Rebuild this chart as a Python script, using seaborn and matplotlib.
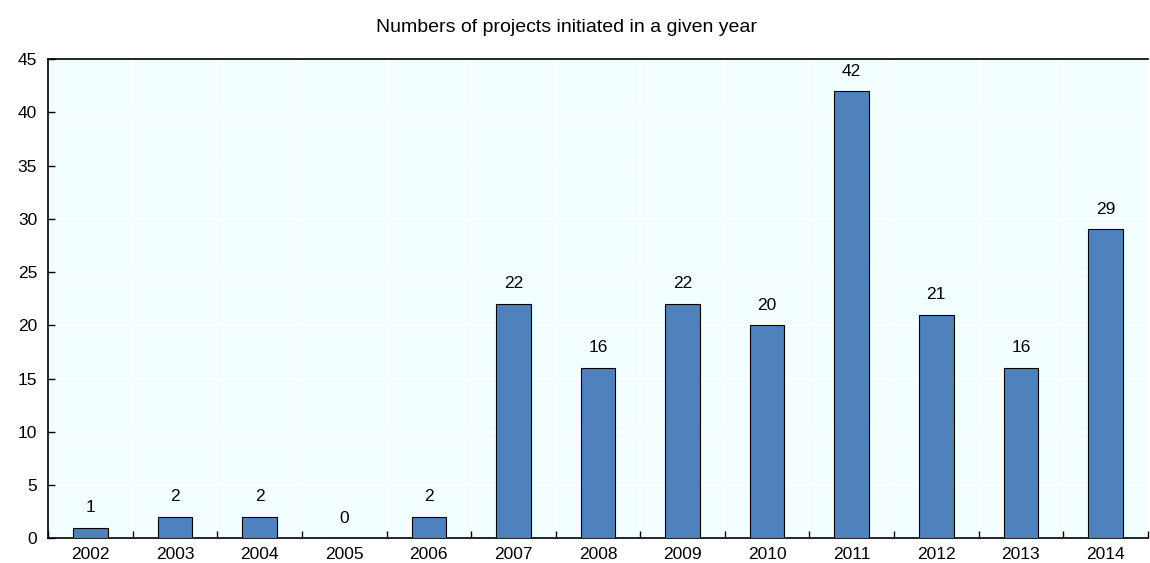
import pandas as pd
import seaborn as sns
import matplotlib.pyplot as plt
import numpy as np

# data
years = ['2002', '2003', '2004', '2005', '2006', '2007', '2008', '2009', '2010', '2011', '2012', '2013', '2014']
projects = [1, 2, 2, 0, 2, 22, 16, 22, 20, 42, 21, 16, 29]

df = pd.DataFrame({'year': years, 'projects': projects})

sns.set_style('white')
plt.rcParams['font.family'] = ['Liberation Sans', 'DejaVu Sans']
plt.rcParams['text.color'] = 'black'
plt.rcParams['xtick.color'] = 'black'
plt.rcParams['ytick.color'] = 'black'

fig = plt.figure(figsize=(11.5, 5.63), dpi=100)
ax = fig.add_axes([0.042, 0.044, 0.956, 0.851])
ax.set_facecolor('#F2FEFF')

sns.barplot(data=df, x='year', y='projects', color='#4F81BD', width=0.41,
            edgecolor='black', linewidth=0.8, saturation=1, ax=ax, zorder=3)

# value labels
for i, v in enumerate(projects):
    ax.annotate(str(v), (i, v), xytext=(0, 9), textcoords='offset points',
                ha='center', va='bottom', fontsize=12.5, color='black')

ax.set_xlim(-0.5, len(years) - 0.5)
ax.set_ylim(0, 45)
ax.set_yticks(np.arange(0, 46, 5))
ax.set_xticks(np.arange(-0.5, len(years), 1), minor=True)

ax.grid(False)
ax.yaxis.grid(True, color='white', linewidth=1.2, zorder=0)
ax.xaxis.grid(True, which='minor', color='white', linewidth=1.2, zorder=0)
ax.set_axisbelow(True)

ax.tick_params(axis='y', left=True, direction='in', length=5, width=1, labelsize=12.5, pad=8)
ax.tick_params(axis='x', which='major', bottom=False, length=0, labelsize=12.5, pad=6)
ax.tick_params(axis='x', which='minor', bottom=True, direction='in', length=5, width=1)

for s in ['left', 'bottom', 'top']:
    ax.spines[s].set_color('black')
    ax.spines[s].set_linewidth(1.2)
ax.spines['right'].set_visible(False)

ax.set_xlabel('')
ax.set_ylabel('')
fig.text(0.493, 0.952, 'Numbers of projects initiated in a given year',
         ha='center', va='center', fontsize=14, color='black')

plt.savefig('out.png', dpi=100)
